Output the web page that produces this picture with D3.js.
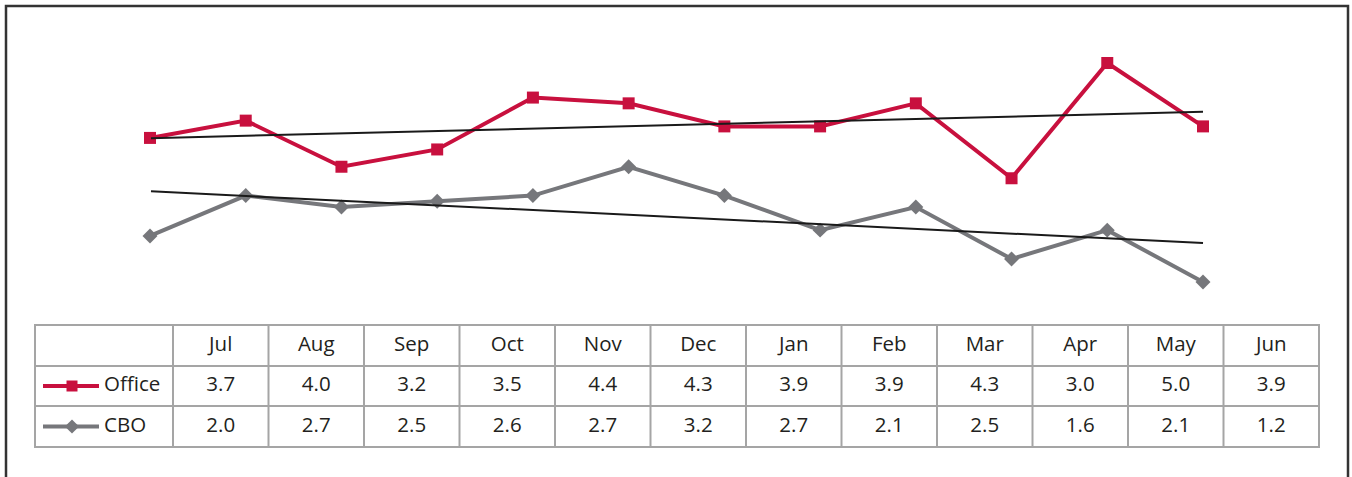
<!DOCTYPE html>
<html>
<head>
<meta charset="utf-8">
<script src="https://d3js.org/d3.v7.min.js"></script>
<style>
  body { margin: 0; background: #fff; }
  text { font-family: "Open Sans", "Noto Sans", sans-serif; }
</style>
</head>
<body>
<div id="chart"></div>
<script>
var months = ["Jul", "Aug", "Sep", "Oct", "Nov", "Dec", "Jan", "Feb", "Mar", "Apr", "May", "Jun"];
var officeValues = [3.7, 4.0, 3.2, 3.5, 4.4, 4.3, 3.9, 3.9, 4.3, 3.0, 5.0, 3.9];
var cboValues = [2.0, 2.7, 2.5, 2.6, 2.7, 3.2, 2.7, 2.1, 2.5, 1.6, 2.1, 1.2];
var seriesNames = ["Office", "CBO"];

var width = 1352, height = 477;
var red = "#c8103e", grey = "#76777b";

var svg = d3.select("#chart").append("svg")
    .attr("width", width).attr("height", height);

// outer frame (no bottom edge visible)
svg.append("path")
    .attr("d", "M6,477V6H1348V477")
    .attr("fill", "none")
    .attr("stroke", "#333")
    .attr("stroke-width", 2.5);

var x = d3.scalePoint().domain(months).range([150, 1203]);
var y = d3.scaleLinear().domain([1.2, 5.0]).range([282, 63]);

// least squares trend
function trend(vals) {
  var n = vals.length, mx = (n - 1) / 2, my = d3.mean(vals);
  var sxy = d3.sum(vals, function(v, i) { return (i - mx) * (v - my); });
  var sxx = d3.sum(vals, function(v, i) { return (i - mx) * (i - mx); });
  var b = sxy / sxx;
  return [my - b * mx, my + b * mx];
}

var line = d3.line()
    .x(function(d, i) { return x(months[i]); })
    .y(function(d) { return y(d); });

function drawSeries(vals, color, rot, size) {
  var g = svg.append("g");
  g.append("path").datum(vals)
    .attr("d", line)
    .attr("fill", "none")
    .attr("stroke", color)
    .attr("stroke-width", 4)
    .attr("stroke-linejoin", "miter");
  g.selectAll("path.pt").data(vals).enter().append("path")
    .attr("class", "pt")
    .attr("transform", function(d, i) {
      return "translate(" + x(months[i]) + "," + y(d) + ") rotate(" + rot + ")";
    })
    .attr("d", d3.symbol().type(d3.symbolSquare).size(size))
    .attr("fill", color);
}

drawSeries(cboValues, grey, 45, 112);
drawSeries(officeValues, red, 0, 144);

[officeValues, cboValues].forEach(function(vals) {
  var t = trend(vals);
  svg.append("line")
    .attr("x1", x(months[0]) + 1).attr("y1", y(t[0]))
    .attr("x2", x(months[months.length - 1])).attr("y2", y(t[1]))
    .attr("stroke", "#1a1a1a")
    .attr("stroke-width", 2);
});

// data table
var tLeft = 35, tRight = 1319, firstCol = 173;
var rowY = [325, 366, 406, 447];
var colX = d3.scaleBand().domain(months).range([firstCol, tRight]);
var tg = svg.append("g");
var tableStroke = "#a5a5a5";
var fs = 20.5;

tg.append("rect")
  .attr("x", tLeft).attr("y", rowY[0])
  .attr("width", tRight - tLeft).attr("height", rowY[3] - rowY[0])
  .attr("fill", "none").attr("stroke", tableStroke).attr("stroke-width", 2);
rowY.slice(1, 3).forEach(function(ry) {
  tg.append("line").attr("x1", tLeft).attr("x2", tRight).attr("y1", ry).attr("y2", ry)
    .attr("stroke", tableStroke).attr("stroke-width", 2);
});
[firstCol].concat(months.slice(1).map(function(m) { return colX(m); })).forEach(function(cx) {
  tg.append("line").attr("x1", cx).attr("x2", cx).attr("y1", rowY[0]).attr("y2", rowY[3])
    .attr("stroke", tableStroke).attr("stroke-width", 2);
});

function rowMid(r) { return (rowY[r] + rowY[r + 1]) / 2 - 2; }

tg.selectAll("text.hdr").data(months).enter().append("text")
  .attr("class", "hdr")
  .attr("x", function(d) { return colX(d) + colX.bandwidth() / 2; })
  .attr("y", rowMid(0))
  .attr("dy", "0.35em")
  .attr("text-anchor", "middle")
  .attr("font-size", fs)
  .attr("fill", "#231f20")
  .text(function(d) { return d; });

[officeValues, cboValues].forEach(function(vals, r) {
  tg.selectAll("text.v" + r).data(vals).enter().append("text")
    .attr("class", "v" + r)
    .attr("x", function(d, i) { return colX(months[i]) + colX.bandwidth() / 2; })
    .attr("y", rowMid(r + 1))
    .attr("dy", "0.35em")
    .attr("text-anchor", "middle")
    .attr("font-size", fs)
    .attr("fill", "#231f20")
    .text(function(d) { return d3.format(".1f")(d); });
});

// legend keys
var keys = [{color: red, rot: 0, size: 121}, {color: grey, rot: 45, size: 100}];
seriesNames.forEach(function(name, r) {
  var cy = (rowY[r + 1] + rowY[r + 2]) / 2;
  tg.append("line").attr("x1", 43).attr("x2", 99).attr("y1", cy).attr("y2", cy)
    .attr("stroke", keys[r].color).attr("stroke-width", 4);
  tg.append("path")
    .attr("transform", "translate(72," + cy + ") rotate(" + keys[r].rot + ")")
    .attr("d", d3.symbol().type(d3.symbolSquare).size(keys[r].size))
    .attr("fill", keys[r].color);
  tg.append("text")
    .attr("x", 104).attr("y", rowMid(r + 1)).attr("dy", "0.35em")
    .attr("font-size", fs).attr("fill", "#231f20")
    .text(name);
});
</script>
</body>
</html>
